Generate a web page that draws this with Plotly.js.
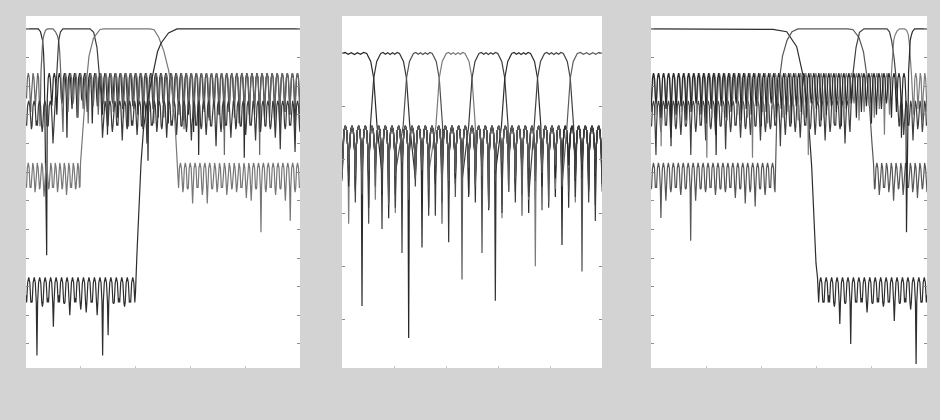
<!DOCTYPE html>
<html><head><meta charset="utf-8">
<script src="https://cdn.plot.ly/plotly-3.0.1.min.js"></script>
<style>html,body{margin:0;padding:0;background:#d3d3d3;}#chart{width:940px;height:420px;}</style>
</head><body><div id="chart"></div>
<script>
// ================= DATA (normalized frequency 0..1, magnitude in dB) =================
// ---- Panel 1 : octave (dyadic) filter bank, 5 channels ----
const p1_levels = [-15.4, -15.4, -25.1, -46.8, -86.8]; // stopband ripple peak per channel

const p1_ch0_fall_f  = [0, 0.0449, 0.0529, 0.0577, 0.0609, 0.0639, 0.0668];
const p1_ch0_fall_db = [0, 0, -1, -2.5, -4.2, -8, -15];
const p1_ch0_stopR = [0.0755, 1];
const p1_ch0_dipsR = [-79,-27,-30,-26,-38,-28,-31,-25,-29,-33,-27,-30,-37,-26,-31,-28,-34,-27,-30,-35,-46,-28,-31,-26,-33,-29,-27,-32,-30,-36,-44,-28,-31,-27,-30,-35,-29,-26,-33,-45,-30,-28,-36,-31,-27,-33,-34,-29,-30,-35,-32];

const p1_ch1_stopL = [0, 0.0511];
const p1_ch1_dipsL = [-24,-29,-27,-34];
const p1_ch1_rise_f  = [0.0547, 0.0577, 0.0609, 0.0657, 0.0712, 0.0785];
const p1_ch1_rise_db = [-15, -8, -4.2, -2, -0.5, 0];
const p1_ch1_fall_f  = [0.0985, 0.1077, 0.115, 0.1193, 0.123, 0.1266];
const p1_ch1_fall_db = [0, -1, -2.5, -4.2, -8, -15];
const p1_ch1_stopR = [0.135, 1];
const p1_ch1_dipsR = [-36,-29,-26,-31,-28,-33,-27,-30,-26,-32,-29,-27,-31,-34,-28,-26,-30,-29,-33,-27,-31,-28,-26,-30,-35,-28,-31,-27,-29,-32,-28,-30,-44,-27,-31,-29,-26,-33,-30,-44,-28,-31,-27,-34,-29,-30,-28,-33];

const p1_ch2_stopL = [0, 0.0985];
const p1_ch2_dipsL = [-33,-35,-32,-36,-34,-40];
const p1_ch2_rise_f  = [0.1069, 0.1124, 0.1161, 0.1193, 0.1259, 0.135];
const p1_ch2_rise_db = [-25, -14, -7, -4, -1, 0];
const p1_ch2_fall_f  = [0.2336, 0.2471, 0.2591, 0.2675, 0.2737];
const p1_ch2_fall_db = [0, -1.2, -6.5, -14.6, -22.8];
const p1_ch2_stopR = [0.2792, 1];
const p1_ch2_dipsR = [-38,-34,-36,-33,-39,-35,-32,-37,-34,-40,-33,-36,-35,-38,-32,-37,-34,-36,-39,-33,-35,-37,-34,-41,-36,-33,-38,-35,-34,-37,-33,-39,-36,-34,-35,-38,-42,-35,-33,-43,-36];

const p1_ch3_stopL = [0, 0.1971];
const p1_ch3_dipsL = [-54,-55,-57,-56,-58.6,-56,-55,-57,-56,-58,-54,-56,-55];
const p1_ch3_rise_f  = [0.1989, 0.208, 0.219, 0.2299, 0.2464, 0.2701, 0.2847];
const p1_ch3_rise_db = [-47, -34, -20, -9.5, -3.2, -0.2, 0];
const p1_ch3_fall_f  = [0.4526, 0.4672, 0.4843, 0.5026, 0.5208, 0.5328, 0.5438, 0.5522];
const p1_ch3_fall_db = [0, -0.3, -2.9, -7.6, -14.6, -21.6, -32.6, -46.9];
const p1_ch3_stopR = [0.5547, 1];
const p1_ch3_dipsR = [-54,-57,-56,-61,-55,-58,-61,-56,-57,-55,-58,-56,-57,-55,-59,-60,-56,-71,-57,-55,-58,-56,-60,-67,-57,-55];

const p1_ch4_stopL = [0, 0.3996];
const p1_ch4_dipsL = [-93,-95,-114,-97,-94,-104,-93,-96,-100,-94,-98,-99,-95,-100,-114,-107,-96,-94,-97,-95,-92];
const p1_ch4_rise_f  = [0.4051, 0.4124, 0.4197, 0.4288, 0.4416, 0.4562, 0.4799, 0.4927, 0.5201, 0.5511, 1];
const p1_ch4_rise_db = [-78, -62, -47, -35, -26, -19, -8, -5, -1.4, 0, 0];

// ---- Panel 2 : uniform 8-channel filter bank ----
const p2_level = -27.2;
const p2_cross = [0.122, 0.248, 0.374, 0.5, 0.626, 0.752, 0.878];   // channel crossover frequencies
const p2_edge_df = [-0.0269, -0.0115, 0, 0.0062, 0.0127];            // falling edge, offset from crossover
const p2_edge_db = [0, -3, -9.3, -18, -27.2];
const p2_pass_ripple = [0.4, -0.3, 0.3, -0.4, 0.3, -0.3, 0.4];
// stopband null depths on the common 39-lobe grid (null = inside passband)
const p2_ch0_dips = [null,null,null,null,null,null,-45,-52,-41,-48, -107,-44,-50,-39,-47,-55,-42,-49,-40,-53, -46,-41,-58,-44,-49,-40,-52,-45,-60,-43, -48,-41,-54,-72,-46,-42,-50,-44,-57,-40];
const p2_ch1_dips = [-40,-48,-43,-55,-46,null,null,null,null,null, null,-47,-42,-58,-44,-50,-71,-43,-49,-41, -56,-45,-40,-93,-47,-52,-42,-48,-44,-55, -41,-49,-46,-43,-58,-45,-40,-51,-44,-47];
const p2_ch2_dips = [-44,-41,-52,-47,-64,-43,-49,-56,-45,null, null,null,null,null,null,-48,-43,-54,-46,-41, -50,-75,-44,-48,-57,-42,-47,-53,-40,-46, -59,-43,-49,-41,-52,-45,-82,-47,-42,-50];
const p2_ch3_dips = [-42,-64,-45,-50,-41,-55,-47,-43,-60,-46, -51,-42,-48,-45,null,null,null,null,null,null, -47,-43,-53,-46,-62,-41,-49,-44,-55,-80, -45,-42,-51,-47,-43,-56,-44,-49,-41,-52];
const p2_ch4_dips = [-47,-43,-51,-45,-58,-42,-66,-46,-53,-41, -49,-44,-57,-43,-61,-45,-50,-42,-48,null, null,null,null,null,null,-44,-56,-41,-52,-46, -43,-58,-45,-49,-42,-54,-47,-43,-63,-46];
const p2_ch5_dips = [-45,-50,-42,-95,-48,-44,-53,-62,-47,-43, -51,-45,-73,-42,-49,-56,-44,-47,-41,-54, -46,-43,-59,-45,null,null,null,null,null,null, -50,-43,-47,-55,-42,-48,-44,-52,-46,-41];
const p2_ch6_dips = [-43,-47,-56,-44,-49,-41,-52,-46,-58,-75, -45,-50,-42,-61,-47,-43,-53,-45,-57,-42, -48,-51,-44,-46,-60,-43,-49,-45,-54,null, null,null,null,null,null,-47,-42,-56,-45,-49];
const p2_ch7_dips = [-48,-42,-46,-53,-44,-50,-43,-57,-46,-41, -55,-47,-44,-51,-42,-64,-48,-45,-85,-43, -49,-46,-58,-44,-41,-52,-47,-61,-43,-48, -45,-56,-42,-50,null,null,null,null,null,null];

// ---- Panel 3 : mirrored octave filter bank, 5 channels ----
const p3_levels = [-86.8, -46.8, -25.1, -15.4, -15.4];

const p3_ch0_fall_f  = [0, 0.3949, 0.442, 0.4917, 0.5279, 0.5518, 0.5699, 0.5822, 0.5906, 0.5978, 0.6033];
const p3_ch0_fall_db = [0, 0, -0.2, -1.0, -6.2, -16.7, -30.7, -48.1, -65.6, -81.8, -86.9];
const p3_ch0_stopR = [0.6051, 1];
const p3_ch0_dipsR = [-92,-95,-93,-97,-103,-96,-110,-95,-94,-99,-96,-94,-97,-95,-102,-96,-94,-98,-117,-95,-93];

const p3_ch1_stopL = [0, 0.4493];
const p3_ch1_dipsL = [-56,-55,-66,-60,-57,-55,-58,-56,-74,-60,-56,-57,-55,-58,-56,-57,-55,-59,-56,-61,-57,-62,-56,-58,-55,-57];
const p3_ch1_rise_f  = [0.4558, 0.4649, 0.4764, 0.4928, 0.5109, 0.5326];
const p3_ch1_rise_db = [-30, -18, -9.5, -4, -1, 0];
const p3_ch1_fall_f  = [0.7138, 0.7319, 0.7536, 0.7699, 0.7815, 0.7917, 0.8007, 0.8062];
const p3_ch1_fall_db = [0, -0.3, -3, -8, -16, -27, -40, -47];
const p3_ch1_stopR = [0.8098, 1];
const p3_ch1_dipsR = [-56,-58,-55,-57,-60,-56,-58,-55,-57,-59,-56,-57];

const p3_ch2_stopL = [0, 0.721];
const p3_ch2_dipsL = [-34,-44,-36,-33,-38,-35,-37,-34,-44,-36,-33,-39,-35,-37,-34,-42,-36,-33,-38,-35,-37,-34,-39,-36,-35,-33,-41,-37,-34,-36,-38,-33,-35,-37,-34,-39,-36,-33,-35,-40,-36];
const p3_ch2_rise_f  = [0.7264, 0.7326, 0.7428, 0.7554, 0.7717];
const p3_ch2_rise_db = [-22.8, -15, -6.5, -1.2, 0];
const p3_ch2_fall_f  = [0.8551, 0.8641, 0.8721, 0.8804, 0.8877, 0.8931];
const p3_ch2_fall_db = [0, -1, -4.2, -9.9, -16.9, -24.8];
const p3_ch2_stopR = [0.8986, 1];
const p3_ch2_dipsR = [-34,-37,-33,-39,-35,-36,-33];

const p3_ch3_stopL = [0, 0.8641];
const p3_ch3_dipsL = [-27,-30,-41,-28,-31,-26,-29,-33,-27,-30,-28,-45,-31,-27,-29,-32,-26,-30,-28,-31,-45,-27,-29,-33,-28,-26,-31,-29,-27,-32,-30,-44,-28,-26,-31,-29,-33,-27,-30,-28,-26,-32,-29,-27,-31,-28,-37,-30];
const p3_ch3_rise_f  = [0.8714, 0.8754, 0.8794, 0.8841, 0.8913, 0.9004];
const p3_ch3_rise_db = [-15, -8, -4, -2.2, -0.8, 0];
const p3_ch3_fall_f  = [0.9185, 0.9264, 0.9322, 0.9359, 0.9402, 0.9438];
const p3_ch3_fall_db = [0, -0.5, -2, -5, -10, -16];
const p3_ch3_stopR = [0.9511, 1];
const p3_ch3_dipsR = [-30,-28,-33,-29];

const p3_ch4_stopL = [0, 0.9257];
const p3_ch4_dipsL = [-29,-26,-31,-28,-41,-30,-27,-32,-29,-26,-30,-33,-28,-44,-27,-31,-29,-26,-32,-28,-30,-27,-34,-29,-26,-31,-28,-30,-33,-27,-29,-31,-26,-28,-32,-30,-27,-29,-34,-28,-26,-31,-29,-27,-33,-30,-28,-26,-31,-29,-38,-71];
const p3_ch4_rise_f  = [0.9333, 0.9362, 0.9391, 0.9424, 0.9471, 0.9551, 1];
const p3_ch4_rise_db = [-15, -8, -4.2, -2.5, -1, 0, 0];

// ================= DRAWING =================
// stopband lobe outline between two nulls (fraction of lobe, dB below ripple peak)
const LOBE_T  = [0.12, 0.3, 0.5, 0.7, 0.88];
const LOBE_DB = [-8.7, -1.8, 0, -1.8, -8.7];

function addLobes(xs, ys, range, level, dips) {
  const n = dips.length - 1;
  if (n < 1) { xs.push(range[0]); ys.push(dips[0]); return; }
  const w = (range[1] - range[0]) / n;
  for (let i = 0; i <= n; i++) {
    const x0 = range[0] + i * w;
    xs.push(x0); ys.push(dips[i]);
    if (i < n) LOBE_T.forEach((t, k) => { xs.push(x0 + t * w); ys.push(level + LOBE_DB[k]); });
  }
}
function addPts(xs, ys, f, db) { f.forEach((v, i) => { xs.push(v); ys.push(db[i]); }); }

function curve(s) {
  const xs = [], ys = [];
  if (s.stopL) addLobes(xs, ys, s.stopL, s.level, s.dipsL);
  if (s.riseF) addPts(xs, ys, s.riseF, s.riseDb);
  if (s.fallF) addPts(xs, ys, s.fallF, s.fallDb);
  if (s.stopR) addLobes(xs, ys, s.stopR, s.level, s.dipsR);
  return { xs, ys };
}

function p2curve(k, d) {
  const xs = [], ys = [];
  const n = d.length - 1;
  let j = 0;
  while (j <= n && d[j] !== null) j++;
  if (j > 0) addLobes(xs, ys, [0, (j - 1) / n], p2_level, d.slice(0, j));
  const c0 = k > 0 ? p2_cross[k - 1] : null, c1 = k < 7 ? p2_cross[k] : null;
  if (c0 !== null) for (let i = p2_edge_df.length - 1; i >= 0; i--) { xs.push(c0 - p2_edge_df[i]); ys.push(p2_edge_db[i]); }
  else { xs.push(0); ys.push(0); }
  const ps = c0 !== null ? c0 - p2_edge_df[0] : 0, pe = c1 !== null ? c1 + p2_edge_df[0] : 1;
  const m = p2_pass_ripple.length;
  p2_pass_ripple.forEach((r, i) => { xs.push(ps + (i + 1) / (m + 1) * (pe - ps)); ys.push(r); });
  if (c1 !== null) for (let i = 0; i < p2_edge_df.length; i++) { xs.push(c1 + p2_edge_df[i]); ys.push(p2_edge_db[i]); }
  else { xs.push(1); ys.push(0); }
  let last = n;
  while (last >= 0 && d[last] !== null) last--;
  if (last < n && last >= 0) addLobes(xs, ys, [(last + 1) / n, 1], p2_level, d.slice(last + 1));
  return { xs, ys };
}

const p1 = [
  curve({ level: p1_levels[0], fallF: p1_ch0_fall_f, fallDb: p1_ch0_fall_db, stopR: p1_ch0_stopR, dipsR: p1_ch0_dipsR }),
  curve({ level: p1_levels[1], stopL: p1_ch1_stopL, dipsL: p1_ch1_dipsL, riseF: p1_ch1_rise_f, riseDb: p1_ch1_rise_db, fallF: p1_ch1_fall_f, fallDb: p1_ch1_fall_db, stopR: p1_ch1_stopR, dipsR: p1_ch1_dipsR }),
  curve({ level: p1_levels[2], stopL: p1_ch2_stopL, dipsL: p1_ch2_dipsL, riseF: p1_ch2_rise_f, riseDb: p1_ch2_rise_db, fallF: p1_ch2_fall_f, fallDb: p1_ch2_fall_db, stopR: p1_ch2_stopR, dipsR: p1_ch2_dipsR }),
  curve({ level: p1_levels[3], stopL: p1_ch3_stopL, dipsL: p1_ch3_dipsL, riseF: p1_ch3_rise_f, riseDb: p1_ch3_rise_db, fallF: p1_ch3_fall_f, fallDb: p1_ch3_fall_db, stopR: p1_ch3_stopR, dipsR: p1_ch3_dipsR }),
  curve({ level: p1_levels[4], stopL: p1_ch4_stopL, dipsL: p1_ch4_dipsL, riseF: p1_ch4_rise_f, riseDb: p1_ch4_rise_db })
];
const p1_colors = ['#2a2a2a', '#666666', '#3a3a3a', '#777777', '#2e2e2e'];

const p2all = [p2_ch0_dips, p2_ch1_dips, p2_ch2_dips, p2_ch3_dips, p2_ch4_dips, p2_ch5_dips, p2_ch6_dips, p2_ch7_dips];
const p2 = p2all.map((d, k) => p2curve(k, d));
const p2_colors = ['#262626', '#333333', '#505050', '#7a7a7a', '#3c3c3c', '#2c2c2c', '#424242', '#5c5c5c'];

const p3 = [
  curve({ level: p3_levels[0], fallF: p3_ch0_fall_f, fallDb: p3_ch0_fall_db, stopR: p3_ch0_stopR, dipsR: p3_ch0_dipsR }),
  curve({ level: p3_levels[1], stopL: p3_ch1_stopL, dipsL: p3_ch1_dipsL, riseF: p3_ch1_rise_f, riseDb: p3_ch1_rise_db, fallF: p3_ch1_fall_f, fallDb: p3_ch1_fall_db, stopR: p3_ch1_stopR, dipsR: p3_ch1_dipsR }),
  curve({ level: p3_levels[2], stopL: p3_ch2_stopL, dipsL: p3_ch2_dipsL, riseF: p3_ch2_rise_f, riseDb: p3_ch2_rise_db, fallF: p3_ch2_fall_f, fallDb: p3_ch2_fall_db, stopR: p3_ch2_stopR, dipsR: p3_ch2_dipsR }),
  curve({ level: p3_levels[3], stopL: p3_ch3_stopL, dipsL: p3_ch3_dipsL, riseF: p3_ch3_rise_f, riseDb: p3_ch3_rise_db, fallF: p3_ch3_fall_f, fallDb: p3_ch3_fall_db, stopR: p3_ch3_stopR, dipsR: p3_ch3_dipsR }),
  curve({ level: p3_levels[4], stopL: p3_ch4_stopL, dipsL: p3_ch4_dipsL, riseF: p3_ch4_rise_f, riseDb: p3_ch4_rise_db })
];
const p3_colors = ['#2e2e2e', '#575757', '#404040', '#7d7d7d', '#2a2a2a'];

const traces = [];
function push(list, colors, xa, ya) {
  list.forEach((c, i) => traces.push({
    type: 'scatter', mode: 'lines', x: c.xs, y: c.ys, xaxis: xa, yaxis: ya,
    line: { color: colors[i], width: 1.2 }, hoverinfo: 'skip', showlegend: false
  }));
}
push(p1, p1_colors, 'x', 'y');
push(p2, p2_colors, 'x2', 'y2');
push(p3, p3_colors, 'x3', 'y3');

const W = 940, H = 420;
const yDom = [1 - 368 / H, 1 - 16 / H];
function xax(l, r, anchor) {
  return { domain: [l / W, r / W], range: [0, 1], anchor, dtick: 0.2, tick0: 0, ticks: 'inside', ticklen: 2,
    tickcolor: '#c4c4c4', showticklabels: false, showgrid: false, zeroline: false, showline: false, fixedrange: true };
}
function yax(range, dtick, anchor) {
  return { domain: yDom, range, anchor, dtick, tick0: 0, ticks: 'inside', ticklen: 3, tickcolor: '#8c8c8c',
    showticklabels: false, showgrid: false, zeroline: false, showline: false, mirror: 'ticks', fixedrange: true };
}
const layout = {
  width: W, height: H, margin: { l: 0, r: 0, t: 0, b: 0, pad: 0 },
  paper_bgcolor: '#d3d3d3', plot_bgcolor: '#ffffff', showlegend: false,
  xaxis: xax(26, 300, 'y'), yaxis: yax([-118.4, 4.5], 10, 'x'),
  xaxis2: xax(342, 602, 'y2'), yaxis2: yax([-118.3, 14.1], 20, 'x2'),
  xaxis3: xax(651, 927, 'y3'), yaxis3: yax([-118.4, 4.5], 10, 'x3')
};
Plotly.newPlot('chart', traces, layout, { staticPlot: true, displayModeBar: false });
</script></body></html>
